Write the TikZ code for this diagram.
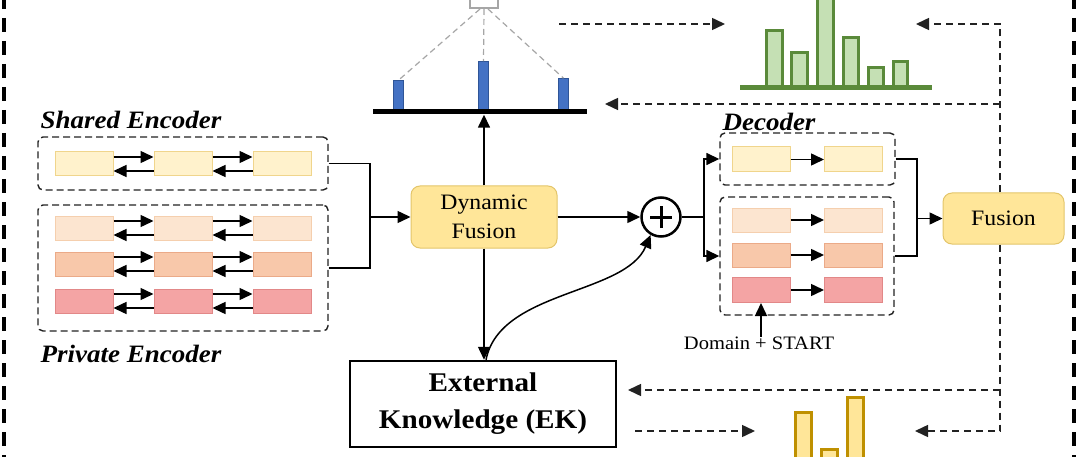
\documentclass[tikz,border=0pt]{standalone}
\usepackage{fontspec}
\setmainfont{Liberation Serif}[FakeStretch=1.08]
\usetikzlibrary{arrows.meta}
\definecolor{shF}{HTML}{FFF2CC}
\definecolor{shD}{HTML}{F0D58C}
\definecolor{pAF}{HTML}{FCE5D0}
\definecolor{pAD}{HTML}{F5CFAE}
\definecolor{pBF}{HTML}{F8C8AA}
\definecolor{pBD}{HTML}{EBAA88}
\definecolor{pCF}{HTML}{F4A4A4}
\definecolor{pCD}{HTML}{E28888}
\definecolor{dfF}{HTML}{FFE699}
\definecolor{dfD}{HTML}{E3C56A}
\definecolor{grF}{HTML}{C5E0B4}
\definecolor{grD}{HTML}{5A8A3A}
\definecolor{blF}{HTML}{4472C4}
\definecolor{blD}{HTML}{2F5597}
\definecolor{gdF}{HTML}{FFE699}
\definecolor{gdD}{HTML}{BF9000}
\definecolor{dk}{HTML}{222222}
\begin{document}
\begin{tikzpicture}[x=1pt,y=-1pt,
  every node/.style={inner sep=0pt},
  tip/.style={-{Triangle[length=13pt,width=12pt]}},
  conn/.style={line width=1.5pt, draw=black},
  arr/.style={conn, tip},
  darr/.style={line width=1.5pt, draw=dk, dash pattern=on 7pt off 5pt, tip},
  gline/.style={line width=1.2pt, draw=black!35, dash pattern=on 6pt off 4pt},
  cell/.style 2 args={draw=#2, fill=#1, line width=1pt, minimum width=58pt, minimum height=24pt},
  group/.style={draw=dk, dash pattern=on 7pt off 4pt, line width=1.4pt, rounded corners=5pt},
  ybox/.style={draw=dfD, fill=dfF, line width=1pt, rounded corners=9pt, align=center, font=\fontsize{22}{29}\selectfont},
  lab/.style={font=\fontsize{25}{30}\selectfont\bfseries\itshape},
  border/.style={line width=3.3pt, dash pattern=on 14pt off 9pt}
]
\useasboundingbox (0,0) rectangle (1078,457);
\clip (0,0) rectangle (1078,457);

% outer dashed frame
\draw[border] (4,-5) -- (4,470);
\draw[border] (1074,-5) -- (1074,470);

% ---------- Shared encoder ----------
\node[lab] (lsh) at (131,120) {Shared Encoder};
\node[group, minimum width=290pt, minimum height=53pt] (sbox) at (183,163.5) {};
\foreach \x/\n in {84/1,183/2,282/3}
  \node[cell={shF}{shD}] (s\n) at (\x,164) {};

% ---------- Private encoder ----------
\node[group, minimum width=290pt, minimum height=126pt] (pbox) at (183,268) {};
\foreach \x/\n in {84/1,183/2,282/3} {
  \node[cell={pAF}{pAD}] (pa\n) at (\x,228) {};
  \node[cell={pBF}{pBD}] (pb\n) at (\x,264) {};
  \node[cell={pCF}{pCD}] (pc\n) at (\x,301) {};
}
\node[lab] (lpr) at (131,354) {Private Encoder};

\foreach \a/\b in {s1/s2,s2/s3,pa1/pa2,pa2/pa3,pb1/pb2,pb2/pb3,pc1/pc2,pc2/pc3} {
  \draw[arr] ([yshift=7pt]\a.east) -- ([yshift=7pt]\b.west);
  \draw[arr] ([yshift=-7pt]\b.west) -- ([yshift=-7pt]\a.east);
}

% ---------- Dynamic fusion ----------
\node[ybox, minimum width=146pt, minimum height=62pt] (df) at (484,217) {Dynamic\\Fusion};
\coordinate (j1) at (370,217);
\draw[conn] (sbox.east) -| (j1);
\draw[conn] (pbox.east) -| (j1);
\draw[arr] (j1) -- (df.west);

% ---------- attention bars ----------
\node[draw=black!35, line width=2pt, minimum size=28pt] (q) at (484,-6) {};
\node[fill=blF, draw=blD, line width=0.8pt, minimum width=10pt, minimum height=29pt, anchor=south] (b1) at (398.5,110) {};
\node[fill=blF, draw=blD, line width=0.8pt, minimum width=10pt, minimum height=48pt, anchor=south] (b2) at (483.5,110) {};
\node[fill=blF, draw=blD, line width=0.8pt, minimum width=10pt, minimum height=31pt, anchor=south] (b3) at (563.5,110) {};
\node[fill=black, minimum width=214pt, minimum height=5pt] (axis) at (480,112) {};
\draw[gline] ([xshift=-4pt]q.south) -- (b1.north);
\draw[gline] (q.south) -- (b2.north);
\draw[gline] ([xshift=4pt]q.south) -- (b3.north);
\draw[arr] (df.north) -- (df.north |- axis.south);

% ---------- External knowledge ----------
\node[draw, line width=2.5pt, minimum width=266pt, minimum height=86pt, align=center,
      font=\fontsize{27}{37}\selectfont\bfseries] (ek) at (483,404) {External\\Knowledge (EK)};
\draw[arr] (df.south) -- (df.south |- ek.north);

% ---------- plus ----------
\node[circle, draw, line width=2.5pt, minimum size=39pt] (plus) at (661,217) {};
\draw[line width=3pt] ([xshift=-11pt]plus.center) -- ([xshift=11pt]plus.center);
\draw[line width=3pt] ([yshift=-11pt]plus.center) -- ([yshift=11pt]plus.center);
\draw[arr] (df.east) -- (plus.west);
\draw[arr] ([xshift=3pt]ek.north) .. controls (500,290) and (625,295) .. (plus.-120);

% ---------- Decoder ----------
\node[lab] (ldec) at (769,121.5) {Decoder};
\node[group, minimum width=175pt, minimum height=52pt] (d1box) at (807.5,159) {};
\node[group, minimum width=174pt, minimum height=118pt] (d2box) at (807,256) {};
\node[cell={shF}{shD}, minimum height=25pt] (ds1) at (761,159.5) {};
\node[cell={shF}{shD}, minimum height=25pt] (ds2) at (853.5,159.5) {};
\node[cell={pAF}{pAD}] (da1) at (761,220) {};
\node[cell={pAF}{pAD}] (da2) at (853.5,220) {};
\node[cell={pBF}{pBD}] (db1) at (761,255) {};
\node[cell={pBF}{pBD}] (db2) at (853.5,255) {};
\node[cell={pCF}{pCD}, minimum height=25pt] (dc1) at (761,290) {};
\node[cell={pCF}{pCD}, minimum height=25pt] (dc2) at (853.5,290) {};
\foreach \r in {s,a,b,c}
  \draw[arr] (d\r1.east) -- (d\r2.west);

\coordinate (j2) at (704,217);
\draw[conn] (plus.east) -- (j2);
\draw[arr] (j2) |- (d1box.west);
\draw[arr] (j2) |- (d2box.west);

\node[font=\fontsize{19}{22}\selectfont] (dom) at (759,343.5) {Domain + START};
\draw[arr] (dom.north -| dc1.south) -- (dc1.south);

% ---------- Fusion ----------
\node[ybox, minimum width=121pt, minimum height=51pt] (fus) at (1003.5,218.5) {Fusion};
\coordinate (j3) at (917,218.5);
\draw[conn] (d1box.east) -| (j3);
\draw[conn] (d2box.east) -| (j3);
\draw[arr] (j3) -- (fus.west);

% ---------- green histogram ----------
\foreach \a/\b/\t in {766/782/31, 791/807/53, 817/833/-10, 843/858/38, 868/883/68, 893/907/62}
  \draw[draw=grD, fill=grF, line width=3pt] (\a,88) rectangle (\b,\t);
\draw[grD, line width=5pt] (740,88) -- (932,88);

% ---------- yellow histogram ----------
\foreach \a/\b/\t in {795/811/412, 821/837/449, 847/863/397}
  \draw[draw=gdD, fill=gdF, line width=3pt] (\a,475) rectangle (\b,\t);

% ---------- dashed feedback arrows ----------
\coordinate (gtip) at (916,24);
\coordinate (v1) at (1000,104);
\coordinate (atip) at (605,104);
\coordinate (v2) at (1000,390);
\coordinate (ektip) at (628,390);
\coordinate (ytip) at (915,431);
\coordinate (tl1) at (559,24);
\coordinate (tl2) at (725,24);
\coordinate (bl1) at (635,431);
\coordinate (bl2) at (755,431);
\draw[darr] ([xshift=-3.5pt]fus.north) |- (gtip);
\draw[darr] (v1) -- (atip);
\draw[darr] ([xshift=-3.5pt]fus.south) |- (ytip);
\draw[darr] (v2) -- (ektip);
\draw[darr] (tl1) -- (tl2);
\draw[darr] (bl1) -- (bl2);
\end{tikzpicture}
\end{document}
